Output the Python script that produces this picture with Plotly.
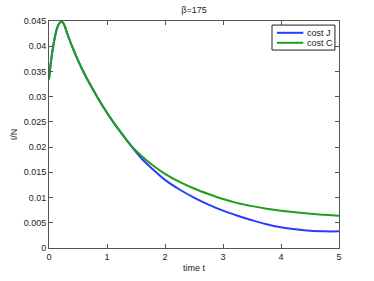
import plotly.graph_objects as go

t = [0, 0.04, 0.08, 0.13, 0.17, 0.22, 0.26, 0.3, 0.4, 0.5, 0.6, 0.7, 0.85, 1.0, 1.1, 1.2, 1.4,
     1.6, 1.8, 2.0, 2.25, 2.5, 2.75, 3.0, 3.25, 3.5, 3.75, 4.0, 4.25, 4.5, 4.75, 5.0]
shared = [0.0334, 0.0375, 0.0405, 0.0432, 0.0444, 0.0449, 0.0443, 0.0430, 0.0399, 0.0372,
          0.0348, 0.0326, 0.0296, 0.0268, 0.0251, 0.0235, 0.0205]
cost_J = shared + [0.0177, 0.0155, 0.0135, 0.0116, 0.0100, 0.0086, 0.0074, 0.0064,
                   0.0055, 0.0047, 0.0041, 0.0037, 0.0034, 0.0033, 0.0033]
cost_C = shared + [0.0182, 0.0163, 0.0147, 0.0131, 0.0118, 0.0107, 0.0097, 0.0089,
                   0.0083, 0.0078, 0.0074, 0.0071, 0.0068, 0.0066, 0.0064]
series_names = ["cost J", "cost C"]
series_colors = ["#2b3bff", "#1f9e1a"]
x_ticks = [0, 1, 2, 3, 4, 5]
y_ticks = [0, 0.005, 0.01, 0.015, 0.02, 0.025, 0.03, 0.035, 0.04, 0.045]
y_labels = ["0", "0.005", "0.01", "0.015", "0.02", "0.025", "0.03", "0.035", "0.04", "0.045"]

fig = go.Figure()
for name, vals, col in zip(series_names, [cost_J, cost_C], series_colors):
    fig.add_trace(go.Scatter(x=t, y=vals, mode="lines", name=name, showlegend=False,
                             line=dict(color=col, width=2, shape="spline", smoothing=1.0)))

font = dict(family="Liberation Sans, Arial, sans-serif", size=9, color="#222222")

# MATLAB-style legend box (paper coordinates)
shapes = [dict(type="rect", xref="paper", yref="paper", x0=0.769, x1=0.986, y0=0.872, y1=0.982,
               line=dict(color="#222222", width=1), fillcolor="white", layer="above")]
annotations = []
for name, col, ry in zip(series_names, series_colors, [0.948, 0.904]):
    shapes.append(dict(type="line", xref="paper", yref="paper", x0=0.786, x1=0.877, y0=ry, y1=ry,
                       line=dict(color=col, width=2), layer="above"))
    annotations.append(dict(text=name, xref="paper", yref="paper", x=0.884, y=ry,
                            xanchor="left", yanchor="middle", showarrow=False, font=font))

axis_common = dict(showline=True, linecolor="#555555", linewidth=1, mirror="ticks",
                   ticks="inside", ticklen=4, tickcolor="#555555", showgrid=False,
                   zeroline=False, tickfont=font, automargin=False)
fig.update_layout(
    width=374, height=281,
    margin=dict(l=49, r=35, t=21, b=33),
    paper_bgcolor="white", plot_bgcolor="white",
    font=font,
    title=dict(text="β=175", x=0.5, xref="paper", xanchor="center", y=0.965, yanchor="middle",
               font=dict(family="Liberation Sans, Arial, sans-serif", size=9, color="#222222"),
               automargin=False),
    xaxis=dict(range=[0, 5], tickvals=x_ticks, title=dict(text="time t", standoff=3, font=font),
               **axis_common),
    yaxis=dict(range=[0, 0.045], tickvals=y_ticks, ticktext=y_labels,
               title=dict(text="I/N", standoff=4, font=font), **axis_common),
    shapes=shapes,
    annotations=annotations,
    showlegend=False,
)
fig.write_html("out.html", config={"displayModeBar": False},
               post_script="document.body.style.margin='0';")
